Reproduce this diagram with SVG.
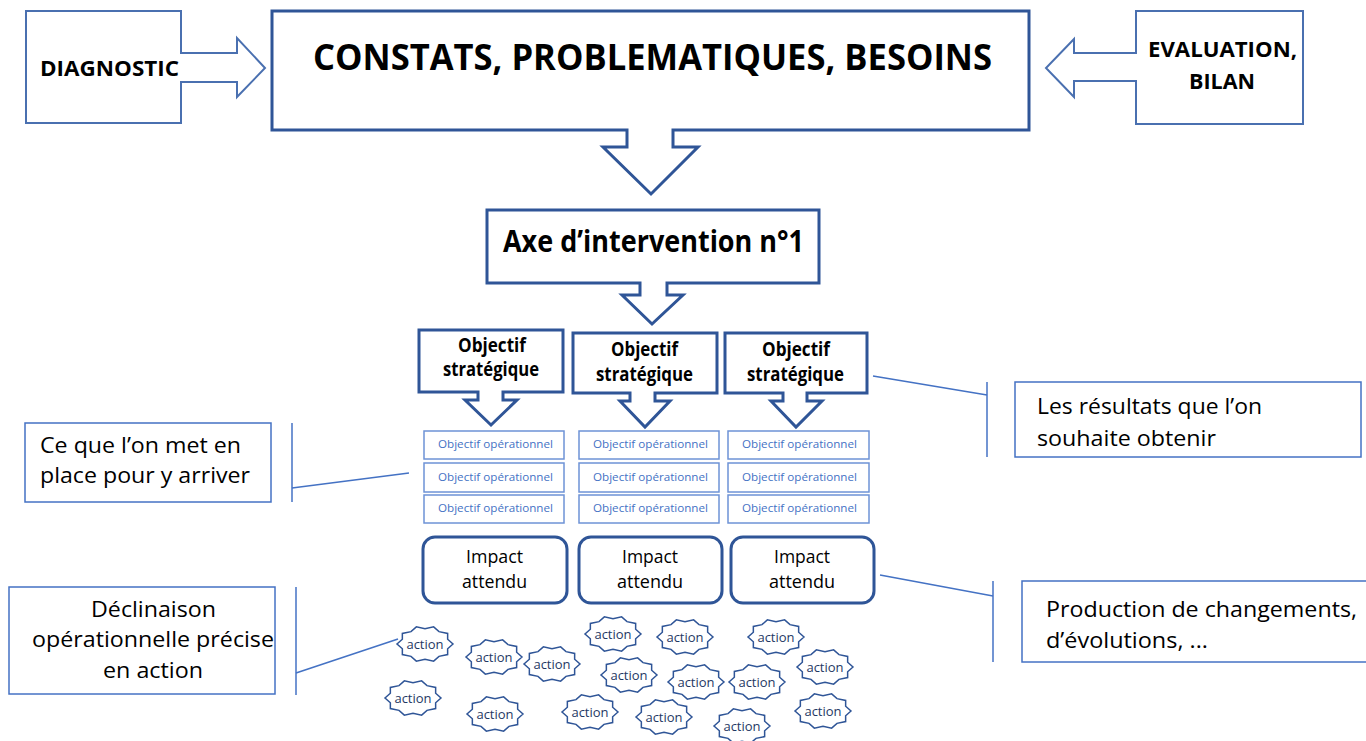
<svg xmlns="http://www.w3.org/2000/svg" xmlns:xlink="http://www.w3.org/1999/xlink" width="1366" height="741" viewBox="0 0 1366 741">
<style>
.thick{fill:#fff;stroke:#2F5597;stroke-width:3;stroke-linejoin:miter}
.mid{fill:#fff;stroke:#4A70B0;stroke-width:2}
.thin{fill:#fff;stroke:#4472C4;stroke-width:1.5}
.op{fill:#fff;stroke:#6E93D6;stroke-width:1.5}
.star{fill:#fff;stroke:#2F5597;stroke-width:1.5;stroke-linejoin:miter}
.conn{fill:none;stroke:#4472C4;stroke-width:1.5}
text{font-family:"Open Sans","Noto Sans","Liberation Sans",sans-serif;fill:#000}
.b{font-weight:bold}
.opt{font-size:11.5px;fill:#4472C4}
.imp{font-size:19px}
.act{font-size:13px;fill:#1F3864;text-anchor:middle}
.note{font-size:21px}
</style>
<defs>
<path id="star" d="M28,0 L22.64,4.73 L22.65,10.58 L13.99,12.38 L8.65,17.12 L0,15.3 L-8.65,17.12 L-13.99,12.38 L-22.65,10.58 L-22.64,4.73 L-28,0 L-22.64,-4.73 L-22.65,-10.58 L-13.99,-12.38 L-8.65,-17.12 L0,-15.3 L8.65,-17.12 L13.99,-12.38 L22.65,-10.58 L22.64,-4.73 Z"/>
</defs>

<g id="connectors">
<line class="conn" x1="873" y1="376" x2="987" y2="395"/>
<line class="conn" x1="987" y1="382" x2="987" y2="457"/>
<line class="conn" x1="880" y1="575" x2="993" y2="596"/>
<line class="conn" x1="993" y1="581" x2="993" y2="662"/>
<line class="conn" x1="409" y1="473" x2="292" y2="488"/>
<line class="conn" x1="292" y1="423" x2="292" y2="502"/>
<line class="conn" x1="398" y1="639" x2="296" y2="673"/>
<line class="conn" x1="296" y1="587" x2="296" y2="695"/>
</g>

<g id="diagnostic">
<path class="mid" d="M26,11 H181 V53 H237 V38 L265,68 L237,97 V82 H181 V123 H26 Z"/>
<text class="b" x="40" y="76" font-size="21" textLength="139" lengthAdjust="spacingAndGlyphs">DIAGNOSTIC</text>
</g>

<g id="constats">
<path class="thick" d="M272,11 H1029 V130 H673 V147 H698 L651,194 L603,147 H627 V130 H272 Z"/>
<text class="b" x="313" y="70" font-size="35" textLength="679" lengthAdjust="spacingAndGlyphs">CONSTATS, PROBLEMATIQUES, BESOINS</text>
</g>

<g id="evaluation">
<path class="mid" d="M1303,11 H1136 V53 H1074 V39 L1046,68 L1074,97 V81 H1136 V124 H1303 Z"/>
<text class="b" x="1148" y="57" font-size="22" textLength="149" lengthAdjust="spacingAndGlyphs">EVALUATION,</text>
<text class="b" x="1189" y="89" font-size="22" textLength="66" lengthAdjust="spacingAndGlyphs">BILAN</text>
</g>

<g id="axe">
<path class="thick" d="M487,210 H819 V283 H667 V295 H683 L652,324 L622,295 H640 V283 H487 Z"/>
<text class="b" x="503" y="252" font-size="30" textLength="301" lengthAdjust="spacingAndGlyphs">Axe d’intervention n°1</text>
</g>

<g id="objstrat1">
<path class="thick" d="M419,330 H563 V392 H503 V400 H517 L491,425 L465,400 H478 V392 H419 Z"/>
<text class="b" x="458" y="352" font-size="19" textLength="68" lengthAdjust="spacingAndGlyphs">Objectif</text>
<text class="b" x="443" y="376" font-size="19" textLength="96" lengthAdjust="spacingAndGlyphs">stratégique</text>
</g>
<g id="objstrat2">
<path class="thick" d="M573,333 H717 V393 H655 V401 H670 L645,427 L620,401 H630 V393 H573 Z"/>
<text class="b" x="611" y="356" font-size="19" textLength="67" lengthAdjust="spacingAndGlyphs">Objectif</text>
<text class="b" x="596" y="381" font-size="19" textLength="97" lengthAdjust="spacingAndGlyphs">stratégique</text>
</g>
<g id="objstrat3">
<path class="thick" d="M725,333 H867 V393 H807 V401 H822 L796,427 L771,401 H783 V393 H725 Z"/>
<text class="b" x="762" y="356" font-size="19" textLength="68" lengthAdjust="spacingAndGlyphs">Objectif</text>
<text class="b" x="747" y="381" font-size="19" textLength="97" lengthAdjust="spacingAndGlyphs">stratégique</text>
</g>

<g id="objop1">
<rect class="op" x="424" y="431" width="140" height="28"/>
<rect class="op" x="424" y="463" width="140" height="29"/>
<rect class="op" x="424" y="495" width="140" height="28"/>
<text class="opt" x="438" y="448" textLength="115" lengthAdjust="spacingAndGlyphs">Objectif opérationnel</text>
<text class="opt" x="438" y="481" textLength="115" lengthAdjust="spacingAndGlyphs">Objectif opérationnel</text>
<text class="opt" x="438" y="512" textLength="115" lengthAdjust="spacingAndGlyphs">Objectif opérationnel</text>
</g>
<g id="objop2">
<rect class="op" x="579" y="431" width="140" height="28"/>
<rect class="op" x="579" y="463" width="140" height="29"/>
<rect class="op" x="579" y="495" width="140" height="28"/>
<text class="opt" x="593" y="448" textLength="115" lengthAdjust="spacingAndGlyphs">Objectif opérationnel</text>
<text class="opt" x="593" y="481" textLength="115" lengthAdjust="spacingAndGlyphs">Objectif opérationnel</text>
<text class="opt" x="593" y="512" textLength="115" lengthAdjust="spacingAndGlyphs">Objectif opérationnel</text>
</g>
<g id="objop3">
<rect class="op" x="728" y="431" width="141" height="28"/>
<rect class="op" x="728" y="463" width="141" height="29"/>
<rect class="op" x="728" y="495" width="141" height="28"/>
<text class="opt" x="742" y="448" textLength="115" lengthAdjust="spacingAndGlyphs">Objectif opérationnel</text>
<text class="opt" x="742" y="481" textLength="115" lengthAdjust="spacingAndGlyphs">Objectif opérationnel</text>
<text class="opt" x="742" y="512" textLength="115" lengthAdjust="spacingAndGlyphs">Objectif opérationnel</text>
</g>

<g id="impact1">
<rect class="thick" x="423" y="537" width="144" height="66" rx="12"/>
<text class="imp" x="466" y="563" textLength="57" lengthAdjust="spacingAndGlyphs">Impact</text>
<text class="imp" x="462" y="588" textLength="65" lengthAdjust="spacingAndGlyphs">attendu</text>
</g>
<g id="impact2">
<rect class="thick" x="579" y="537" width="143" height="66" rx="12"/>
<text class="imp" x="622" y="563" textLength="56" lengthAdjust="spacingAndGlyphs">Impact</text>
<text class="imp" x="617" y="588" textLength="66" lengthAdjust="spacingAndGlyphs">attendu</text>
</g>
<g id="impact3">
<rect class="thick" x="731" y="537" width="143" height="66" rx="12"/>
<text class="imp" x="774" y="563" textLength="56" lengthAdjust="spacingAndGlyphs">Impact</text>
<text class="imp" x="769" y="588" textLength="66" lengthAdjust="spacingAndGlyphs">attendu</text>
</g>

<g id="note-resultats">
<rect class="thin" x="1015" y="382" width="346" height="75"/>
<text class="note" x="1037" y="414" textLength="225" lengthAdjust="spacingAndGlyphs">Les résultats que l’on</text>
<text class="note" x="1037" y="446" textLength="179" lengthAdjust="spacingAndGlyphs">souhaite obtenir</text>
</g>

<g id="note-production">
<rect class="thin" x="1022" y="581" width="350" height="81"/>
<text class="note" x="1046" y="617" font-size="22" textLength="311" lengthAdjust="spacingAndGlyphs">Production de changements,</text>
<text class="note" x="1046" y="648" font-size="22" textLength="162" lengthAdjust="spacingAndGlyphs">d’évolutions, ...</text>
</g>

<g id="note-moyens">
<rect class="thin" x="25" y="423" width="246" height="79"/>
<text class="note" x="40" y="453" font-size="22" textLength="201" lengthAdjust="spacingAndGlyphs">Ce que l’on met en</text>
<text class="note" x="40" y="483" font-size="22" textLength="210" lengthAdjust="spacingAndGlyphs">place pour y arriver</text>
</g>

<g id="note-declinaison">
<rect class="thin" x="9" y="587" width="266" height="107"/>
<text class="note" x="91" y="617" textLength="125" lengthAdjust="spacingAndGlyphs">Déclinaison</text>
<text class="note" x="32" y="647" textLength="242" lengthAdjust="spacingAndGlyphs">opérationnelle précise</text>
<text class="note" x="103" y="678" textLength="100" lengthAdjust="spacingAndGlyphs">en action</text>
</g>

<g id="actions">
<g id="action1"><use xlink:href="#star" class="star" x="425" y="644"/><text class="act" x="425" y="648.5">action</text></g>
<g id="action2"><use xlink:href="#star" class="star" x="494" y="657"/><text class="act" x="494" y="661.5">action</text></g>
<g id="action3"><use xlink:href="#star" class="star" x="552" y="664"/><text class="act" x="552" y="668.5">action</text></g>
<g id="action4"><use xlink:href="#star" class="star" x="613" y="634"/><text class="act" x="613" y="638.5">action</text></g>
<g id="action5"><use xlink:href="#star" class="star" x="685" y="637"/><text class="act" x="685" y="641.5">action</text></g>
<g id="action6"><use xlink:href="#star" class="star" x="776" y="637"/><text class="act" x="776" y="641.5">action</text></g>
<g id="action7"><use xlink:href="#star" class="star" x="413" y="698"/><text class="act" x="413" y="702.5">action</text></g>
<g id="action8"><use xlink:href="#star" class="star" x="495" y="714"/><text class="act" x="495" y="718.5">action</text></g>
<g id="action9"><use xlink:href="#star" class="star" x="590" y="712"/><text class="act" x="590" y="716.5">action</text></g>
<g id="action10"><use xlink:href="#star" class="star" x="629" y="675"/><text class="act" x="629" y="679.5">action</text></g>
<g id="action11"><use xlink:href="#star" class="star" x="696" y="682"/><text class="act" x="696" y="686.5">action</text></g>
<g id="action12"><use xlink:href="#star" class="star" x="757" y="682"/><text class="act" x="757" y="686.5">action</text></g>
<g id="action13"><use xlink:href="#star" class="star" x="825" y="667"/><text class="act" x="825" y="671.5">action</text></g>
<g id="action14"><use xlink:href="#star" class="star" x="823" y="711"/><text class="act" x="823" y="715.5">action</text></g>
<g id="action15"><use xlink:href="#star" class="star" x="664" y="717"/><text class="act" x="664" y="721.5">action</text></g>
<g id="action16"><use xlink:href="#star" class="star" x="742" y="726"/><text class="act" x="742" y="730.5">action</text></g>
</g>
</svg>
